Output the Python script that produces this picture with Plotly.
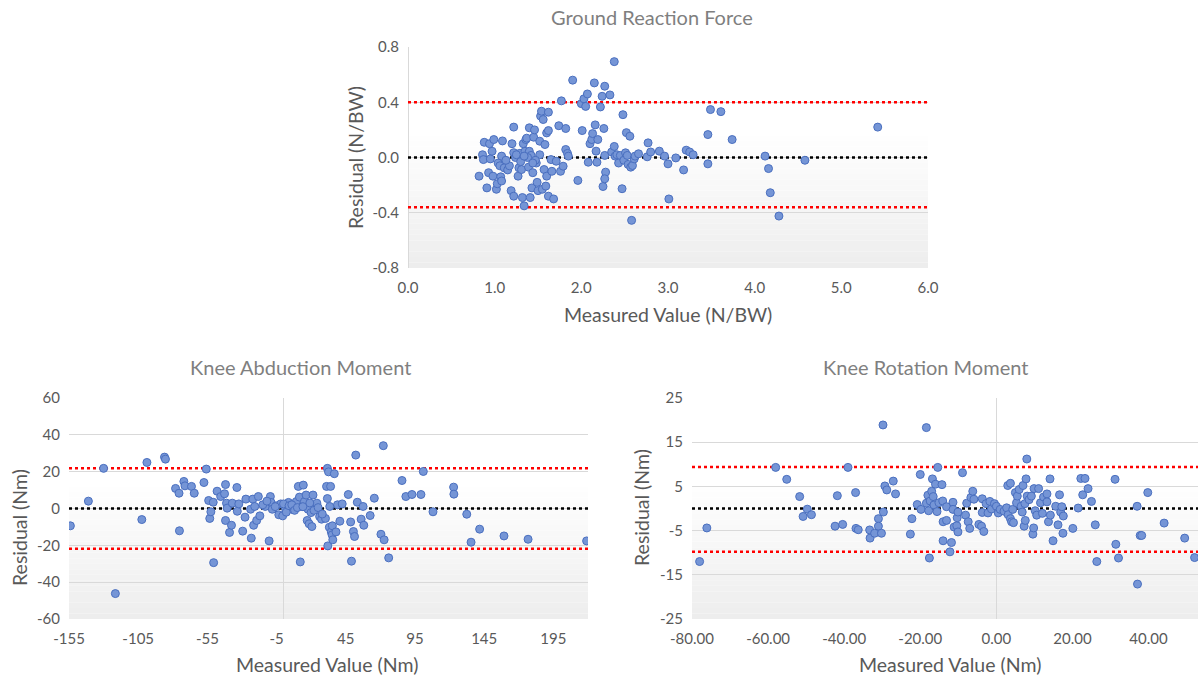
import plotly.graph_objects as go

# ---------------- DATA ----------------
grf_measured = [0.82, 0.86, 0.87, 0.88, 0.91, 0.93, 0.94, 0.95, 0.97, 0.98, 0.99, 1.02, 1.03, 1.04, 1.06, 1.07,
                1.08, 1.08, 1.09, 1.11, 1.15, 1.17, 1.19, 1.20, 1.22, 1.22, 1.22, 1.24, 1.27, 1.28, 1.29, 1.31,
                1.32, 1.33, 1.34, 1.35, 1.36, 1.37, 1.39, 1.40, 1.40, 1.41, 1.42, 1.43, 1.44, 1.45, 1.46, 1.48,
                1.49, 1.50, 1.52, 1.52, 1.53, 1.54, 1.55, 1.56, 1.57, 1.58, 1.59, 1.60, 1.60, 1.62, 1.62, 1.62,
                1.65, 1.66, 1.68, 1.71, 1.74, 1.76, 1.77, 1.79, 1.82, 1.82, 1.84, 1.85, 1.90, 1.96, 2.00, 2.01,
                2.03, 2.05, 2.07, 2.08, 2.10, 2.12, 2.13, 2.15, 2.16, 2.17, 2.18, 2.19, 2.22, 2.24, 2.26, 2.25,
                2.27, 2.27, 2.28, 2.27, 2.33, 2.35, 2.38, 2.38, 2.39, 2.41, 2.43, 2.45, 2.47, 2.48, 2.49, 2.51,
                2.52, 2.53, 2.54, 2.56, 2.57, 2.58, 2.59, 2.61, 2.62, 2.66, 2.76, 2.77, 2.80, 2.90, 2.96, 3.00,
                3.01, 3.09, 3.18, 3.21, 3.25, 3.29, 3.46, 3.46, 3.49, 3.61, 3.74, 4.12, 4.16, 4.18, 4.28, 4.58,
                5.42, 1.13, 1.25, 1.30, 1.38, 1.47, 1.34, 1.44]
grf_residual = [-0.135, 0.02, -0.015, 0.11, -0.22, -0.11, 0.10, -0.01, 0.045, -0.135, 0.13, -0.23, -0.19, -0.04,
                -0.06, -0.14, -0.17, 0.01, 0.12, -0.075, -0.09, -0.06, -0.24, 0.10, 0.22, 0.035, -0.28, 0.0,
                -0.135, -0.075, 0.03, -0.087, -0.29, 0.10, -0.35, 0.045, 0.13, 0.14, -0.07, 0.215, 0.045, -0.29,
                0.015, -0.22, -0.11, 0.147, 0.20, -0.04, -0.18, -0.24, 0.02, 0.118, 0.30, 0.335, -0.23, 0.275,
                -0.087, 0.094, -0.207, -0.135, 0.178, 0.328, 0.195, -0.28, -0.015, -0.10, -0.30, -0.027, 0.23,
                -0.10, 0.41, -0.063, 0.21, 0.058, 0.03, 0.01, 0.56, -0.166, 0.39, 0.195, 0.425, 0.37, 0.46,
                -0.034, 0.10, 0.13, 0.173, 0.54, 0.236, 0.046, -0.034, 0.13, 0.366, 0.443, 0.21, -0.21, 0.516,
                0.015, -0.106, -0.154, 0.453, 0.04, 0.694, 0.08, 0.01, 0.02, -0.04, 0.015, -0.226, 0.31, -0.02,
                0.034, 0.18, 0.015, -0.05, 0.154, -0.07, -0.455, -0.058, -0.01, 0.01, 0.027, 0.005, 0.106, 0.04,
                0.046, 0.01, -0.046, -0.30, -0.003, -0.09, 0.053, 0.04, 0.02, 0.166, -0.046, 0.347, 0.332, 0.13,
                0.01, -0.08, -0.255, -0.424, -0.02, 0.22, -0.02, 0.02, -0.03, 0.0, -0.02, 0.01, -0.04]
grf_mean, grf_upper, grf_lower = 0.0, 0.40, -0.36

kam_measured = [-154, -141, -130, -121.5, -102.4, -98.7, -86, -85.3, -78, -75.5, -75.2, -72, -71.2, -66.5, -64.5,
                -57.5, -55.8, -54.1, -53.3, -52.5, -50.8, -50.5, -48, -45.4, -42.6, -41.9, -41.9, -41.2, -40.7,
                -39, -37.6, -37, -33.7, -33.4, -32.3, -29.5, -27.8, -27.2, -23.8, -23.3, -22.2, -21.6, -20.8,
                -19.4, -18.2, -17.1, -13.2, -10.4, -9.5, -9.0, -8.1, -5.3, -3.4, -2.0, -0.6, 1.4, 3.6, 5.9, 7.3,
                9.3, 10.7, 11.5, 12.1, 13.5, 14.3, 15.1, 16.3, 17.1, 17.7, 18.5, 19.9, 20.5, 21.3, 23.3, 24.1,
                26.1, 27.5, 30.3, 31.1, 31.7, 31.7, 32, 32.5, 33.1, 33.4, 34, 34.5, 35.1, 35.3, 35.6, 36.7,
                37.9, 39, 40.7, 42.4, 46.8, 48.5, 49.1, 50.5, 51.3, 52.2, 53.3, 56.1, 57.5, 58, 62.6, 65.6,
                70.4, 72.1, 72.7, 76, 85.6, 88.4, 92.8, 99.3, 101, 108, 122.9, 123.1, 132.4, 135.5, 141.7,
                159.3, 176.7, 219, -15, -12, -6, 0, 2, 4, 6, 8, 10, 14, 19, 22, 25, 28]
kam_residual = [-9.4, 4.0, 21.8, -46.2, -6.0, 25.0, 27.9, 26.8, 10.9, 8.3, -12.1, 14.7, 12.3, 12.0, 8.3, 14.1,
                21.4, 4.35, -5.4, -1.8, 3.4, -29.4, 9.4, 6.5, 8.0, 13, -6.5, 2.9, 0.2, -13, -9.1, 2.9, 11.4,
                -1.5, 2.5, -12.3, -4.7, 5.1, -0.4, -16.1, 5.1, -9.1, 1.1, -6.5, 6.5, -4.0, 1.1, -17.6, 6.5, 3.3,
                -0.4, 1.45, -3.4, 2.5, -4.0, 0, 3.3, -0.4, 2.5, 3.8, 12, 6.2, -29, 1.1, 12.7, 3.8, 7.3, -6.5,
                -0.4, -8.3, -2.2, -9.8, 7.3, 1.1, 2.9, -4.35, -5.8, -5.4, 12, 5.4, 21.8, -20.3, 19.9, -10.2,
                1.1, 12, -12.7, -14.3, -9.4, -17, 18.9, -12.7, 2.0, -6.9, 2.5, 7.6, -7.3, -28.6, -12.5, -15.2,
                29, 3.4, -5.8, 1.1, -9.1, -3.8, 5.6, -14, 34.1, -17, -26.8, 15.2, 6.5, 7.6, 7.6, 20.1, -1.8,
                11.6, 7.8, -3.1, -18.3, -11.2, -14.9, -16.7, -17.6, 2, 4, 1, 2.5, -2, 1.5, 2, -1, 0.5, 1, 3,
                -1, 0.5, -3]
kam_mean, kam_upper, kam_lower = 0.0, 21.8, -21.9

krm_measured = [-78, -76.1, -58, -55.1, -51.7, -50.8, -49.7, -48.6, -42.4, -41.8, -40.4, -39, -37, -36.9, -36.3,
                -33.3, -33.2, -32.0, -31.0, -31.0, -30.2, -29.8, -29.7, -29.3, -28.8, -27.1, -26.5, -22.6,
                -22.2, -20.8, -20.0, -19.8, -18.4, -18.4, -18.0, -17.8, -17.6, -17.4, -17.0, -16.8, -16.6,
                -16.4, -16.0, -15.6, -15.4, -15.1, -14.3, -14.1, -14.0, -14.0, -13.1, -13.1, -12.2, -11.8,
                -11.4, -11.4, -11.1, -10.4, -10.3, -10.1, -10.1, -8.9, -8.1, -7.8, -7.4, -7.0, -6.7, -6.2,
                -5.9, -4.6, -3.9, -3.7, -3.7, -3.3, -2.7, -2.2, -1.7, -1.3, -0.5, 0, 0.5, 1.0, 2.0, 2.7, 3.0,
                3.1, 3.7, 3.7, 4.0, 4.3, 4.5, 5.0, 5.3, 5.5, 6.0, 6.5, 6.8, 7.0, 7.3, 7.5, 7.6, 7.8, 8.0, 8.1,
                8.6, 9.2, 9.6, 9.8, 9.9, 10.2, 10.6, 11.1, 11.6, 12.1, 12.4, 13.3, 13.3, 13.7, 14.1, 14.2,
                14.9, 15.6, 16.2, 16.6, 16.9, 17.2, 17.5, 17.6, 20.1, 21.5, 22.2, 22.7, 23.3, 24.1, 25.0,
                26.0, 26.4, 31.2, 31.4, 32.1, 37.0, 37.1, 37.8, 38.2, 39.8, 44.1, 49.5, 52.1]
krm_residual = [-12, -4.4, 9.3, 6.6, 2.7, -1.8, -0.15, -1.4, -4.0, 2.9, -3.6, 9.3, 3.6, -4.5, -4.8, -4.85, -6.7,
                -5.6, -2.3, -4.0, -5.6, 18.9, -0.8, 5.1, 4.2, 6.2, 3.3, -5.8, -2.3, 0.9, 7.7, -0.2, 18.3, 1.2,
                3.0, -0.5, -11.2, 1.7, 3.9, 6.7, 2.7, 0.8, 5.5, -0.7, 9.3, 1.3, 5.4, 1.7, -3.0, -7.3, -2.7, 0.4,
                -9.8, -7.7, 1.4, -0.2, -4.2, -3.9, -2.1, -5.3, -0.8, 8.1, -1.5, 1.2, -3.0, -4.5, 2.5, 3.9, 2.1,
                -3.6, -4.0, 2.2, -0.9, -5.2, 1.1, -1.0, 1.6, -0.1, 1.1, 0.5, -1.0, -0.2, -0.6, 0.15, 5.2, -1.4,
                5.7, -2.3, -3.0, -0.2, -3.2, 3.6, 1.3, 2.8, 4.3, 0.5, -0.8, 5.2, -4.0, 1.1, -2.7, 6.7, 11.2, 2.8,
                2.0, 2.8, -5.8, -4.4, 4.5, -0.5, -1.5, 4.5, 1.3, -1.1, 2.6, 3.3, 1.5, -3.0, 6.7, -1.5, -7.3,
                0.5, -3.7, 3.1, -0.8, 0.4, -5.6, -1.7, -4.5, 0.1, 6.8, 3.1, 6.8, 4.5, 1.6, -3.7, -12.0, 6.6,
                -8.1, -11.2, 0.5, -17.1, -6.1, -6.1, 3.6, -3.3, -6.7, -11.1]
krm_mean, krm_upper, krm_lower = 0.0, 9.4, -9.8

grf_xticks = [0, 1, 2, 3, 4, 5, 6]
grf_xlabels = ["0.0", "1.0", "2.0", "3.0", "4.0", "5.0", "6.0"]
grf_yticks = [-0.8, -0.4, 0.0, 0.4, 0.8]
grf_ylabels = ["-0.8", "-0.4", "0.0", "0.4", "0.8"]
kam_xticks = [-155, -105, -55, -5, 45, 95, 145, 195]
kam_xlabels = ["-155", "-105", "-55", "-5", "45", "95", "145", "195"]
kam_yticks = [-60, -40, -20, 0, 20, 40, 60]
kam_ylabels = ["-60", "-40", "-20", "0", "20", "40", "60"]
krm_xticks = [-80, -60, -40, -20, 0, 20, 40]
krm_xlabels = ["-80.00", "-60.00", "-40.00", "-20.00", "0.00", "20.00", "40.00"]
krm_yticks = [-25, -15, -5, 5, 15, 25]
krm_ylabels = ["-25", "-15", "-5", "5", "15", "25"]

titles = ["Ground Reaction Force", "Knee Abduction Moment", "Knee Rotation Moment"]
x_titles = ["Measured Value (N/BW)", "Measured Value (Nm)", "Measured Value (Nm)"]
y_titles = ["Residual (N/BW)", "Residual (Nm)", "Residual (Nm)"]

# ---------------- FIGURE ----------------
W, H = 1198, 676
FONT = "Lato, 'Open Sans', sans-serif"
TICK_COLOR = "#595959"
GRID = "#d9d9d9"

fig = go.Figure()

panels = [
    dict(xs=grf_measured, ys=grf_residual, lims=(grf_mean, grf_upper, grf_lower),
         xr=[0, 6], yr=[-0.8, 0.8], xt=(grf_xticks, grf_xlabels), yt=(grf_yticks, grf_ylabels),
         xdom=[408 / W, 928 / W], ydom=[1 - 268 / H, 1 - 47 / H]),
    dict(xs=kam_measured, ys=kam_residual, lims=(kam_mean, kam_upper, kam_lower),
         xr=[-155, 220], yr=[-60, 60], xt=(kam_xticks, kam_xlabels), yt=(kam_yticks, kam_ylabels),
         xdom=[69 / W, 588 / W], ydom=[1 - 619 / H, 1 - 398 / H]),
    dict(xs=krm_measured, ys=krm_residual, lims=(krm_mean, krm_upper, krm_lower),
         xr=[-80, 53], yr=[-25, 25], xt=(krm_xticks, krm_xlabels), yt=(krm_yticks, krm_ylabels),
         xdom=[692 / W, 1.0], ydom=[1 - 619 / H, 1 - 398 / H]),
]

shapes = []
layout_axes = {}
for i, p in enumerate(panels):
    n = "" if i == 0 else str(i + 1)
    xa, ya = "x" + n, "y" + n
    # reference lines (limits of agreement and mean), drawn first so markers sit on top
    mean, up, lo = p["lims"]
    for val, col in [(up, "#ff0000"), (lo, "#ff0000"), (mean, "#000000")]:
        fig.add_trace(go.Scatter(
            x=p["xr"], y=[val, val], mode="lines", xaxis=xa, yaxis=ya, showlegend=False,
            hoverinfo="skip", line=dict(color=col, width=2.5, dash="dot"),
        ))
    fig.add_trace(go.Scatter(
        x=p["xs"], y=p["ys"], mode="markers", xaxis=xa, yaxis=ya, showlegend=False,
        marker=dict(size=8, color="#7595d6", line=dict(color="#4a6fbf", width=1)),
    ))
    layout_axes["xaxis" + n] = dict(
        domain=p["xdom"], anchor=ya, range=p["xr"], tickmode="array",
        tickvals=p["xt"][0], ticktext=p["xt"][1], showgrid=False,
        zeroline=True, zerolinecolor=GRID, zerolinewidth=1,
        showline=False, ticks="", ticklabelstandoff=9, automargin=False,
        tickfont=dict(family=FONT, size=15, color=TICK_COLOR), fixedrange=True,
    )
    layout_axes["yaxis" + n] = dict(
        domain=p["ydom"], anchor=xa, range=p["yr"], tickmode="array",
        tickvals=p["yt"][0], ticktext=p["yt"][1], showgrid=True, gridcolor=GRID, gridwidth=1,
        zeroline=False, showline=False, ticks="", ticklabelstandoff=8, automargin=False,
        tickfont=dict(family=FONT, size=15, color=TICK_COLOR), fixedrange=True,
    )
    # background gradient (white at top -> light gray at bottom)
    nb = 40
    for k in range(nb):
        f = (k + 0.5) / nb  # 0 bottom, 1 top
        t = max(0.0, min(1.0, (0.62 - f) / 0.62))
        g = round(255 - t * 18)
        shapes.append(dict(type="rect", xref=xa + " domain", yref=ya + " domain",
                           x0=0, x1=1, y0=k / nb, y1=(k + 1) / nb, layer="below",
                           fillcolor=f"rgb({g},{g},{g})", line=dict(width=0)))

def ann(text, x, y, size, color, angle=0):
    return dict(text=text, x=x / W, y=1 - y / H, xref="paper", yref="paper", showarrow=False,
                xanchor="center", yanchor="middle", textangle=angle,
                font=dict(family=FONT, size=size, color=color))

annotations = [
    ann(titles[0], 652, 17, 20, "#7f7f7f"),
    ann(titles[1], 300, 367, 20, "#7f7f7f"),
    ann(titles[2], 925, 367, 20, "#7f7f7f"),
    ann(x_titles[0], 668, 314, 19.5, "#595959"),
    ann(x_titles[1], 327, 664, 19.5, "#595959"),
    ann(x_titles[2], 950, 664, 19.5, "#595959"),
    ann(y_titles[0], 356, 158, 19.5, "#595959", -90),
    ann(y_titles[1], 19, 528, 19.5, "#595959", -90),
    ann(y_titles[2], 642, 508, 19.5, "#595959", -90),
]

fig.update_layout(
    width=W, height=H, margin=dict(l=0, r=0, t=0, b=0, autoexpand=False),
    paper_bgcolor="white", plot_bgcolor="white",
    shapes=shapes, annotations=annotations, showlegend=False,
    **layout_axes,
)

fig.write_html("out.html", config={"displayModeBar": False})
